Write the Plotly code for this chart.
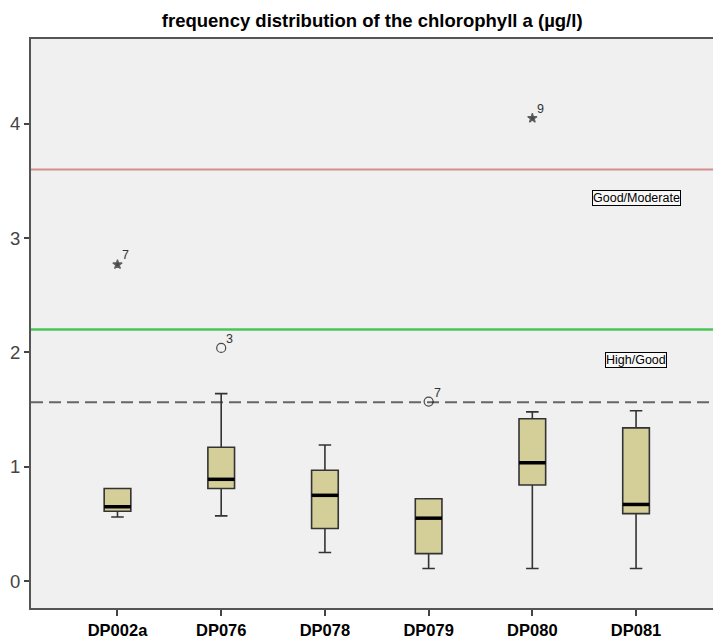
import plotly.graph_objects as go

# Stations and box-plot statistics of chlorophyll a (µg/l)
stations = ["DP002a", "DP076", "DP078", "DP079", "DP080", "DP081"]
lower_whisker = [0.56, 0.57, 0.25, 0.11, 0.11, 0.11]
q1 = [0.61, 0.81, 0.46, 0.24, 0.84, 0.59]
median = [0.65, 0.89, 0.75, 0.55, 1.035, 0.67]
q3 = [0.81, 1.17, 0.97, 0.72, 1.42, 1.34]
upper_whisker = [0.81, 1.64, 1.19, 0.72, 1.48, 1.49]

# Outlying observations (station index, value, case label, kind)
out_station = [0, 1, 3, 4]
out_value = [2.77, 2.04, 1.57, 4.05]
out_case = ["7", "3", "7", "9"]
out_symbol = ["star", "circle-open", "circle-open", "star"]
out_size = [7, 9, 9, 7]

# Classification boundaries
good_moderate = 3.6
high_good = 2.2
reference_level = 1.565

box_width = 0.257
font = "Liberation Sans, Arial"

fig = go.Figure()

for i, name in enumerate(stations):
    fig.add_trace(go.Box(
        x=[i], q1=[q1[i]], median=[median[i]], q3=[q3[i]],
        lowerfence=[lower_whisker[i]], upperfence=[upper_whisker[i]],
        width=box_width, whiskerwidth=0.47,
        fillcolor="#d4cf98", line=dict(color="#333333", width=1.6),
        boxpoints=False, showlegend=False, hoverinfo="skip",
    ))

# Thick median bars
mx, my = [], []
for i, m in enumerate(median):
    mx += [i - box_width / 2, i + box_width / 2, None]
    my += [m, m, None]
fig.add_trace(go.Scatter(x=mx, y=my, mode="lines",
                         line=dict(color="black", width=3.5),
                         showlegend=False, hoverinfo="skip"))

# Outliers with case numbers
fig.add_trace(go.Scatter(
    x=out_station, y=out_value, mode="markers",
    marker=dict(symbol=out_symbol, size=out_size, color="black",
                line=dict(color="#222222", width=1.2)),
    showlegend=False, hoverinfo="skip"))
for xs, v, c in zip(out_station, out_value, out_case):
    fig.add_annotation(x=xs, y=v, text=c, showarrow=False,
                       xanchor="left", yanchor="bottom", xshift=3, yshift=0,
                       font=dict(family=font, size=12.5, color="#333333"))

# Horizontal boundary lines
fig.add_shape(type="line", xref="paper", x0=0, x1=1, y0=good_moderate, y1=good_moderate,
              line=dict(color="#d68c8c", width=2), layer="below")
fig.add_shape(type="line", xref="paper", x0=0, x1=1, y0=high_good, y1=high_good,
              line=dict(color="#4cc45a", width=2.5), layer="below")
fig.add_shape(type="line", xref="paper", x0=0, x1=1, y0=reference_level, y1=reference_level,
              line=dict(color="#666666", width=2, dash="12px,6px"), layer="below")

# Boundary labels
for txt, yv in [("Good/Moderate", 3.35), ("High/Good", 1.93)]:
    fig.add_annotation(x=5, y=yv, text=txt, showarrow=False,
                       font=dict(family=font, size=12.5, color="black"),
                       bgcolor="#f8f8f8", bordercolor="black", borderwidth=1, borderpad=0)

fig.update_layout(
    width=713, height=638,
    margin=dict(l=31, r=0, t=39, b=30),
    paper_bgcolor="white", plot_bgcolor="#f0f0f0",
    title=dict(text="<b>frequency distribution of the chlorophyll a (µg/l)</b>",
               x=0.522, xanchor="center", y=0.968, yanchor="middle",
               font=dict(family=font, size=18.5, color="black")),
    xaxis=dict(range=[-0.834, 5.742], tickmode="array", tickvals=list(range(len(stations))),
               ticktext=[f"<b>{s}</b>" for s in stations],
               tickfont=dict(family=font, size=16.5, color="black"),
               showgrid=False, zeroline=False, showline=True, mirror=True,
               linecolor="#555555", linewidth=2, automargin=False,
               ticks="outside", ticklen=6, tickwidth=1.5, tickcolor="#444444",
               ticklabelstandoff=0),
    yaxis=dict(range=[-0.236, 4.743], tickmode="array", tickvals=[0, 1, 2, 3, 4],
               tickfont=dict(family=font, size=18.5, color="#444444"),
               showgrid=False, zeroline=False, showline=True,
               linecolor="#555555", linewidth=2, automargin=False,
               ticks="outside", ticklen=5, tickwidth=1.5, tickcolor="#444444"),
)

fig.write_html("out.html")
